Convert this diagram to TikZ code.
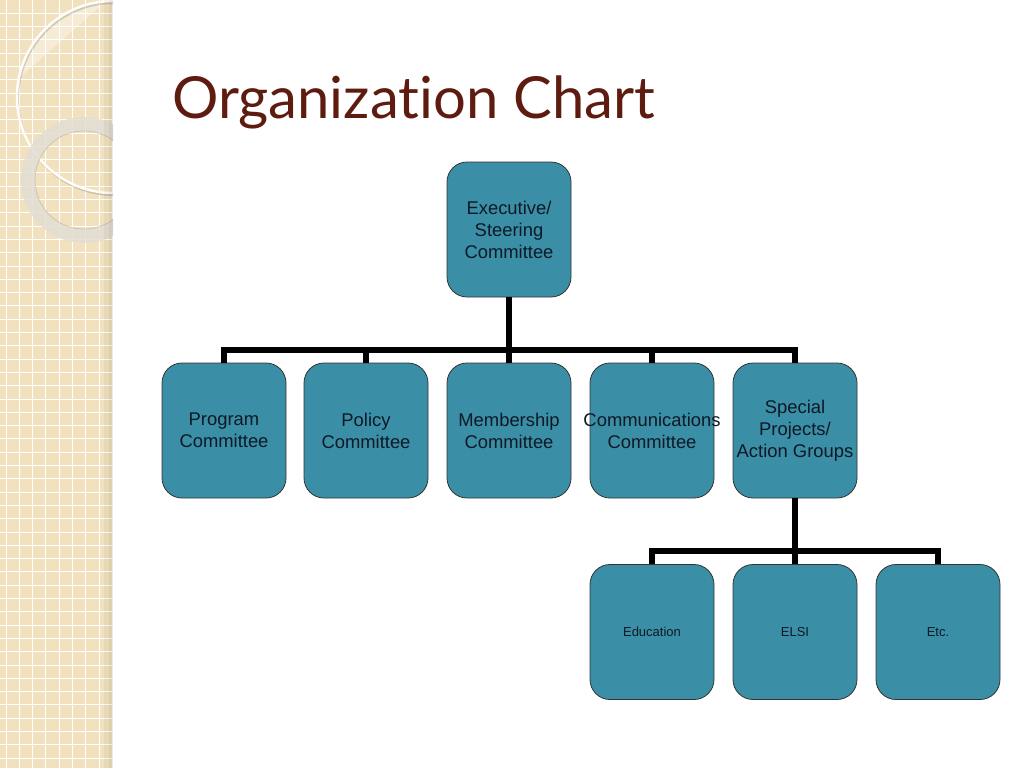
\documentclass[tikz,border=0pt]{standalone}
\usepackage{fontspec}
\setmainfont{Liberation Sans}
\newfontfamily\titlefont{Lato}[Ligatures=NoCommon]

\definecolor{boxteal}{RGB}{58,143,166}
\definecolor{textnavy}{RGB}{14,24,38}
\definecolor{titlebrown}{RGB}{94,28,16}
\definecolor{stripTan}{RGB}{242,225,190}
\definecolor{ringGray}{RGB}{226,222,212}

\tikzset{
  unitbox/.style={draw=black!80, line width=0.8pt, fill=boxteal, rounded corners=20pt,
    minimum width=124pt, minimum height=135pt, inner sep=0pt, align=center,
    text=textnavy, font=\fontsize{18.4}{22}\selectfont},
  smallbox/.style={unitbox, font=\fontsize{13}{15}\selectfont},
  conn/.style={line width=6pt}
}

\begin{document}
\begin{tikzpicture}[x=1pt,y=-1pt]
\useasboundingbox (0,0) rectangle (1024,768);
\fill[white] (0,0) rectangle (1024,768);

% left strip
\fill[stripTan] (0,0) rectangle (113,768);
\foreach \x in {6,19.3,...,113}
  \draw[white, line width=1pt] (\x,0) -- (\x,768);
\foreach \y in {0,13.3,...,768}
  \draw[white, line width=1pt] (0,\y) -- (113,\y);
\begin{scope}
  \clip (0,0) rectangle (113,768);
  \begin{scope}
    \clip (113,97) circle[radius=95];
    \fill[white,opacity=0.35] (0,0) -- (0,95) -- (113,-5) -- cycle;
  \end{scope}
  \draw[black,opacity=0.15,line width=2pt] (114,99) circle[radius=96];
  \draw[white!92!stripTan, line width=2.5pt] (113,97) circle[radius=96];
  \draw[ringGray, opacity=0.85, line width=14pt] (84,180) circle[radius=56];
  \draw[black,opacity=0.1,line width=1pt] (84,180) circle[radius=49];
\end{scope}
\fill[black,opacity=0.04] (104,0) rectangle (113,768);
\fill[black,opacity=0.04] (109,0) rectangle (113,768);

% title
\node[anchor=base west, inner sep=0pt, text=titlebrown,
  font=\titlefont\fontsize{58}{58}\selectfont] (title) at (172,118) {Organization Chart};

% boxes
\node[unitbox] (exec) at (509,229.5) {Executive/\\Steering\\Committee};

\node[unitbox] (program) at (224,430.5) {Program\\Committee};
\node[unitbox] (policy) at (366,430.5) {Policy\\Committee};
\node[unitbox] (member) at (509,430.5) {Membership\\Committee};
\node[unitbox] (comms) at (652,430.5) {\makebox[110pt]{Communications}\\Committee};
\node[unitbox] (special) at (795,430.5) {Special\\Projects/\\Action Groups};

\node[smallbox] (educ) at (652,632) {Education};
\node[smallbox] (elsi) at (795,632) {ELSI};
\node[smallbox] (etc) at (938,632) {Etc.};

% connectors
\coordinate (busA) at (509,350);
\coordinate (busB) at (795,551);

\draw[conn] (exec.south) -- (member.north);
\draw[conn] (program.north) |- (busA);
\draw[conn] (policy.north) |- (busA);
\draw[conn] (comms.north) |- (busA);
\draw[conn] (special.north) |- (busA);

\draw[conn] (special.south) -- (elsi.north);
\draw[conn] (educ.north) |- (busB);
\draw[conn] (etc.north) |- (busB);
\end{tikzpicture}
\end{document}
